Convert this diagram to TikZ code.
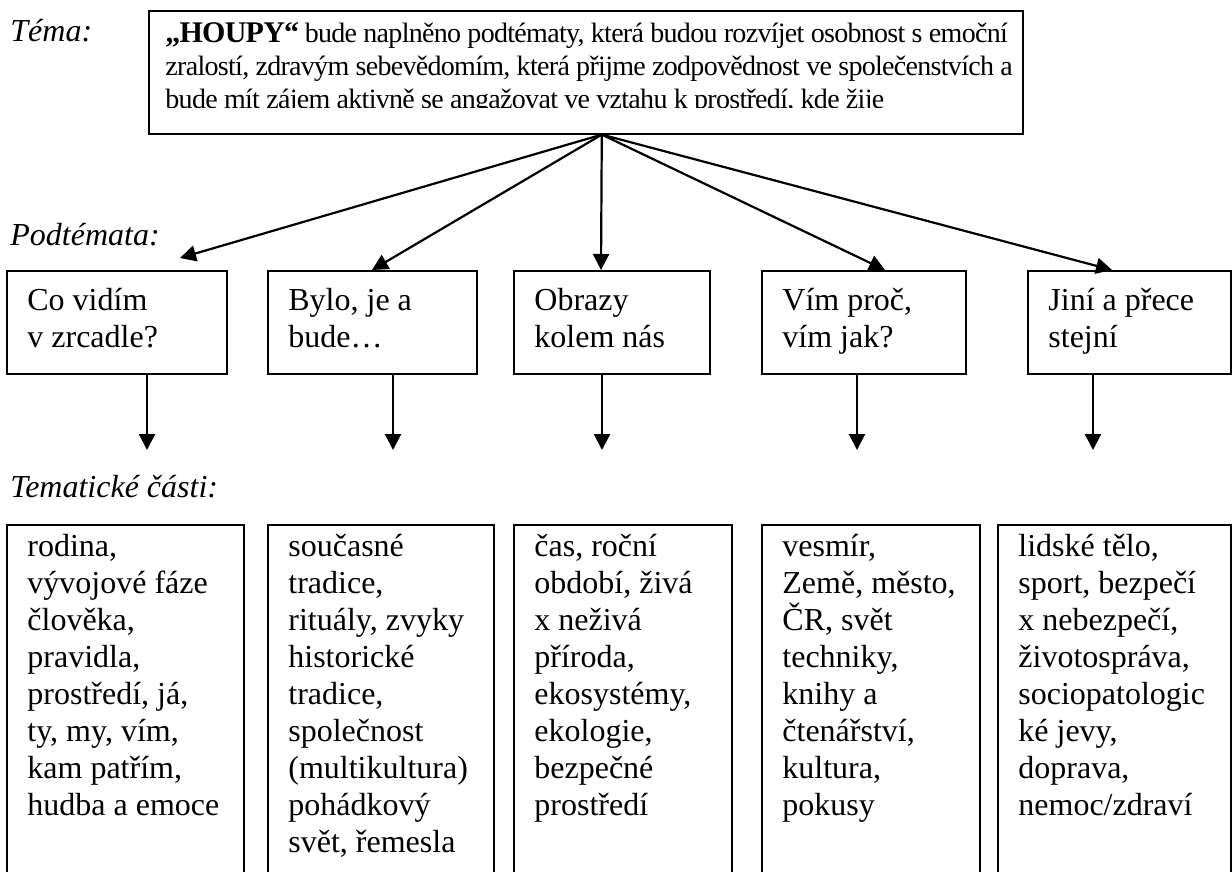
\documentclass[tikz,border=0pt]{standalone}
\usepackage{fontspec}
\setmainfont{Liberation Serif}
\newfontfamily\tightfont[LetterSpace=-2.5]{Liberation Serif}
\usetikzlibrary{arrows.meta}

\tikzset{
  box/.style={draw, line width=0.8pt, anchor=north west, inner sep=0pt},
  boxtext/.style={anchor=north west, align=left, inner sep=0pt, font=\fontsize{16pt}{18.5pt}\selectfont},
  toptext/.style={anchor=north west, align=left, inner sep=0pt, font=\tightfont\fontsize{14pt}{16.5pt}\selectfont},
  rowlabel/.style={anchor=base west, inner sep=0pt, font=\fontsize{16pt}{18.5pt}\selectfont\itshape},
  arr/.style={-{Triangle[length=8pt,width=8pt]}, line width=1.1pt}
}

\begin{document}
\begin{tikzpicture}[x=0.5pt, y=-0.5pt]
\useasboundingbox (0,0) rectangle (1232,872);
\clip (0,0) rectangle (1232,872);

% tema
\node[rowlabel] (tema) at (10,42) {Téma:};
\node[box, minimum width=437pt, minimum height=61.5pt] (top) at (148,10) {};
\begin{scope}
\clip (148,10) rectangle (1022,108);
\node[toptext] (toptext) at (165,18.9) {\strut{\fontsize{15pt}{16.5pt}\selectfont\textbf{„HOUPY“}} bude naplněno podtématy, která budou rozvíjet osobnost s emoční\\
zralostí, zdravým sebevědomím, která přijme zodpovědnost ve společenstvích a\\
bude mít zájem aktivně se angažovat ve vztahu k prostředí, kde žije};
\end{scope}

% podtemata
\node[rowlabel] (podtemata) at (10,245) {Podtémata:};
\node[box, minimum width=110pt, minimum height=51.5pt] (s1) at (6,270) {};
\node[box, minimum width=104.5pt, minimum height=51.5pt] (s2) at (267,270) {};
\node[box, minimum width=98pt, minimum height=51.5pt] (s3) at (513,270) {};
\node[box, minimum width=102pt, minimum height=51.5pt] (s4) at (761,270) {};
\node[box, minimum width=101.5pt, minimum height=51.5pt] (s5) at (1027,270) {};
\node[boxtext] (s1t) at (27,284.1) {\strut Co vidím\\v zrcadle?};
\node[boxtext] (s2t) at (288,284.1) {\strut Bylo, je a\\bude…};
\node[boxtext] (s3t) at (534,284.1) {\strut Obrazy\\kolem nás};
\node[boxtext] (s4t) at (782,284.1) {\strut Vím proč,\\vím jak?};
\node[boxtext] (s5t) at (1048,284.1) {\strut Jiní a přece\\stejní};

% tematicke casti
\node[rowlabel] (casti) at (10,497) {Tematické části:};
\node[box, minimum width=118.5pt, minimum height=188pt] (c1) at (6,524) {};
\node[box, minimum width=113pt, minimum height=188pt] (c2) at (267,524) {};
\node[box, minimum width=109pt, minimum height=188pt] (c3) at (513,524) {};
\node[box, minimum width=109pt, minimum height=188pt] (c4) at (761,524) {};
\node[box, minimum width=116.5pt, minimum height=188pt] (c5) at (997,524) {};
\node[boxtext] (c1t) at (27,530.1) {\strut rodina,\\vývojové fáze\\člověka,\\pravidla,\\prostředí, já,\\ty, my, vím,\\kam patřím,\\hudba a emoce};
\node[boxtext] (c2t) at (288,530.1) {\strut současné\\tradice,\\rituály, zvyky\\historické\\tradice,\\společnost\\(multikultura)\\pohádkový\\svět, řemesla};
\node[boxtext] (c3t) at (534,530.1) {\strut čas, roční\\období, živá\\x neživá\\příroda,\\ekosystémy,\\ekologie,\\bezpečné\\prostředí};
\node[boxtext] (c4t) at (782,530.1) {\strut vesmír,\\Země, město,\\ČR, svět\\techniky,\\knihy a\\čtenářství,\\kultura,\\pokusy};
\node[boxtext] (c5t) at (1018,530.1) {\strut lidské tělo,\\sport, bezpečí\\x nebezpečí,\\životospráva,\\sociopatologic\\ké jevy,\\doprava,\\nemoc/zdraví};

% arrows
\coordinate (hub) at ([xshift=8pt]top.south);
\coordinate (t1) at (180,258);
\coordinate (t2) at (372,270);
\coordinate (t3) at (601,270);
\coordinate (t4) at (885,270);
\coordinate (t5) at (1112,270);
\coordinate (d1) at (147,450);
\coordinate (d2) at (393,450);
\coordinate (d3) at (602,450);
\coordinate (d4) at (857,450);
\coordinate (d5) at (1093,450);
\path[arr]
(hub) edge (t1)
      edge (t2)
      edge (t3)
      edge (t4)
      edge (t5)
(s1.south -| d1) edge (d1)
(s2.south -| d2) edge (d2)
(s3.south -| d3) edge (d3)
(s4.south -| d4) edge (d4)
(s5.south -| d5) edge (d5)
;
\end{tikzpicture}
\end{document}
